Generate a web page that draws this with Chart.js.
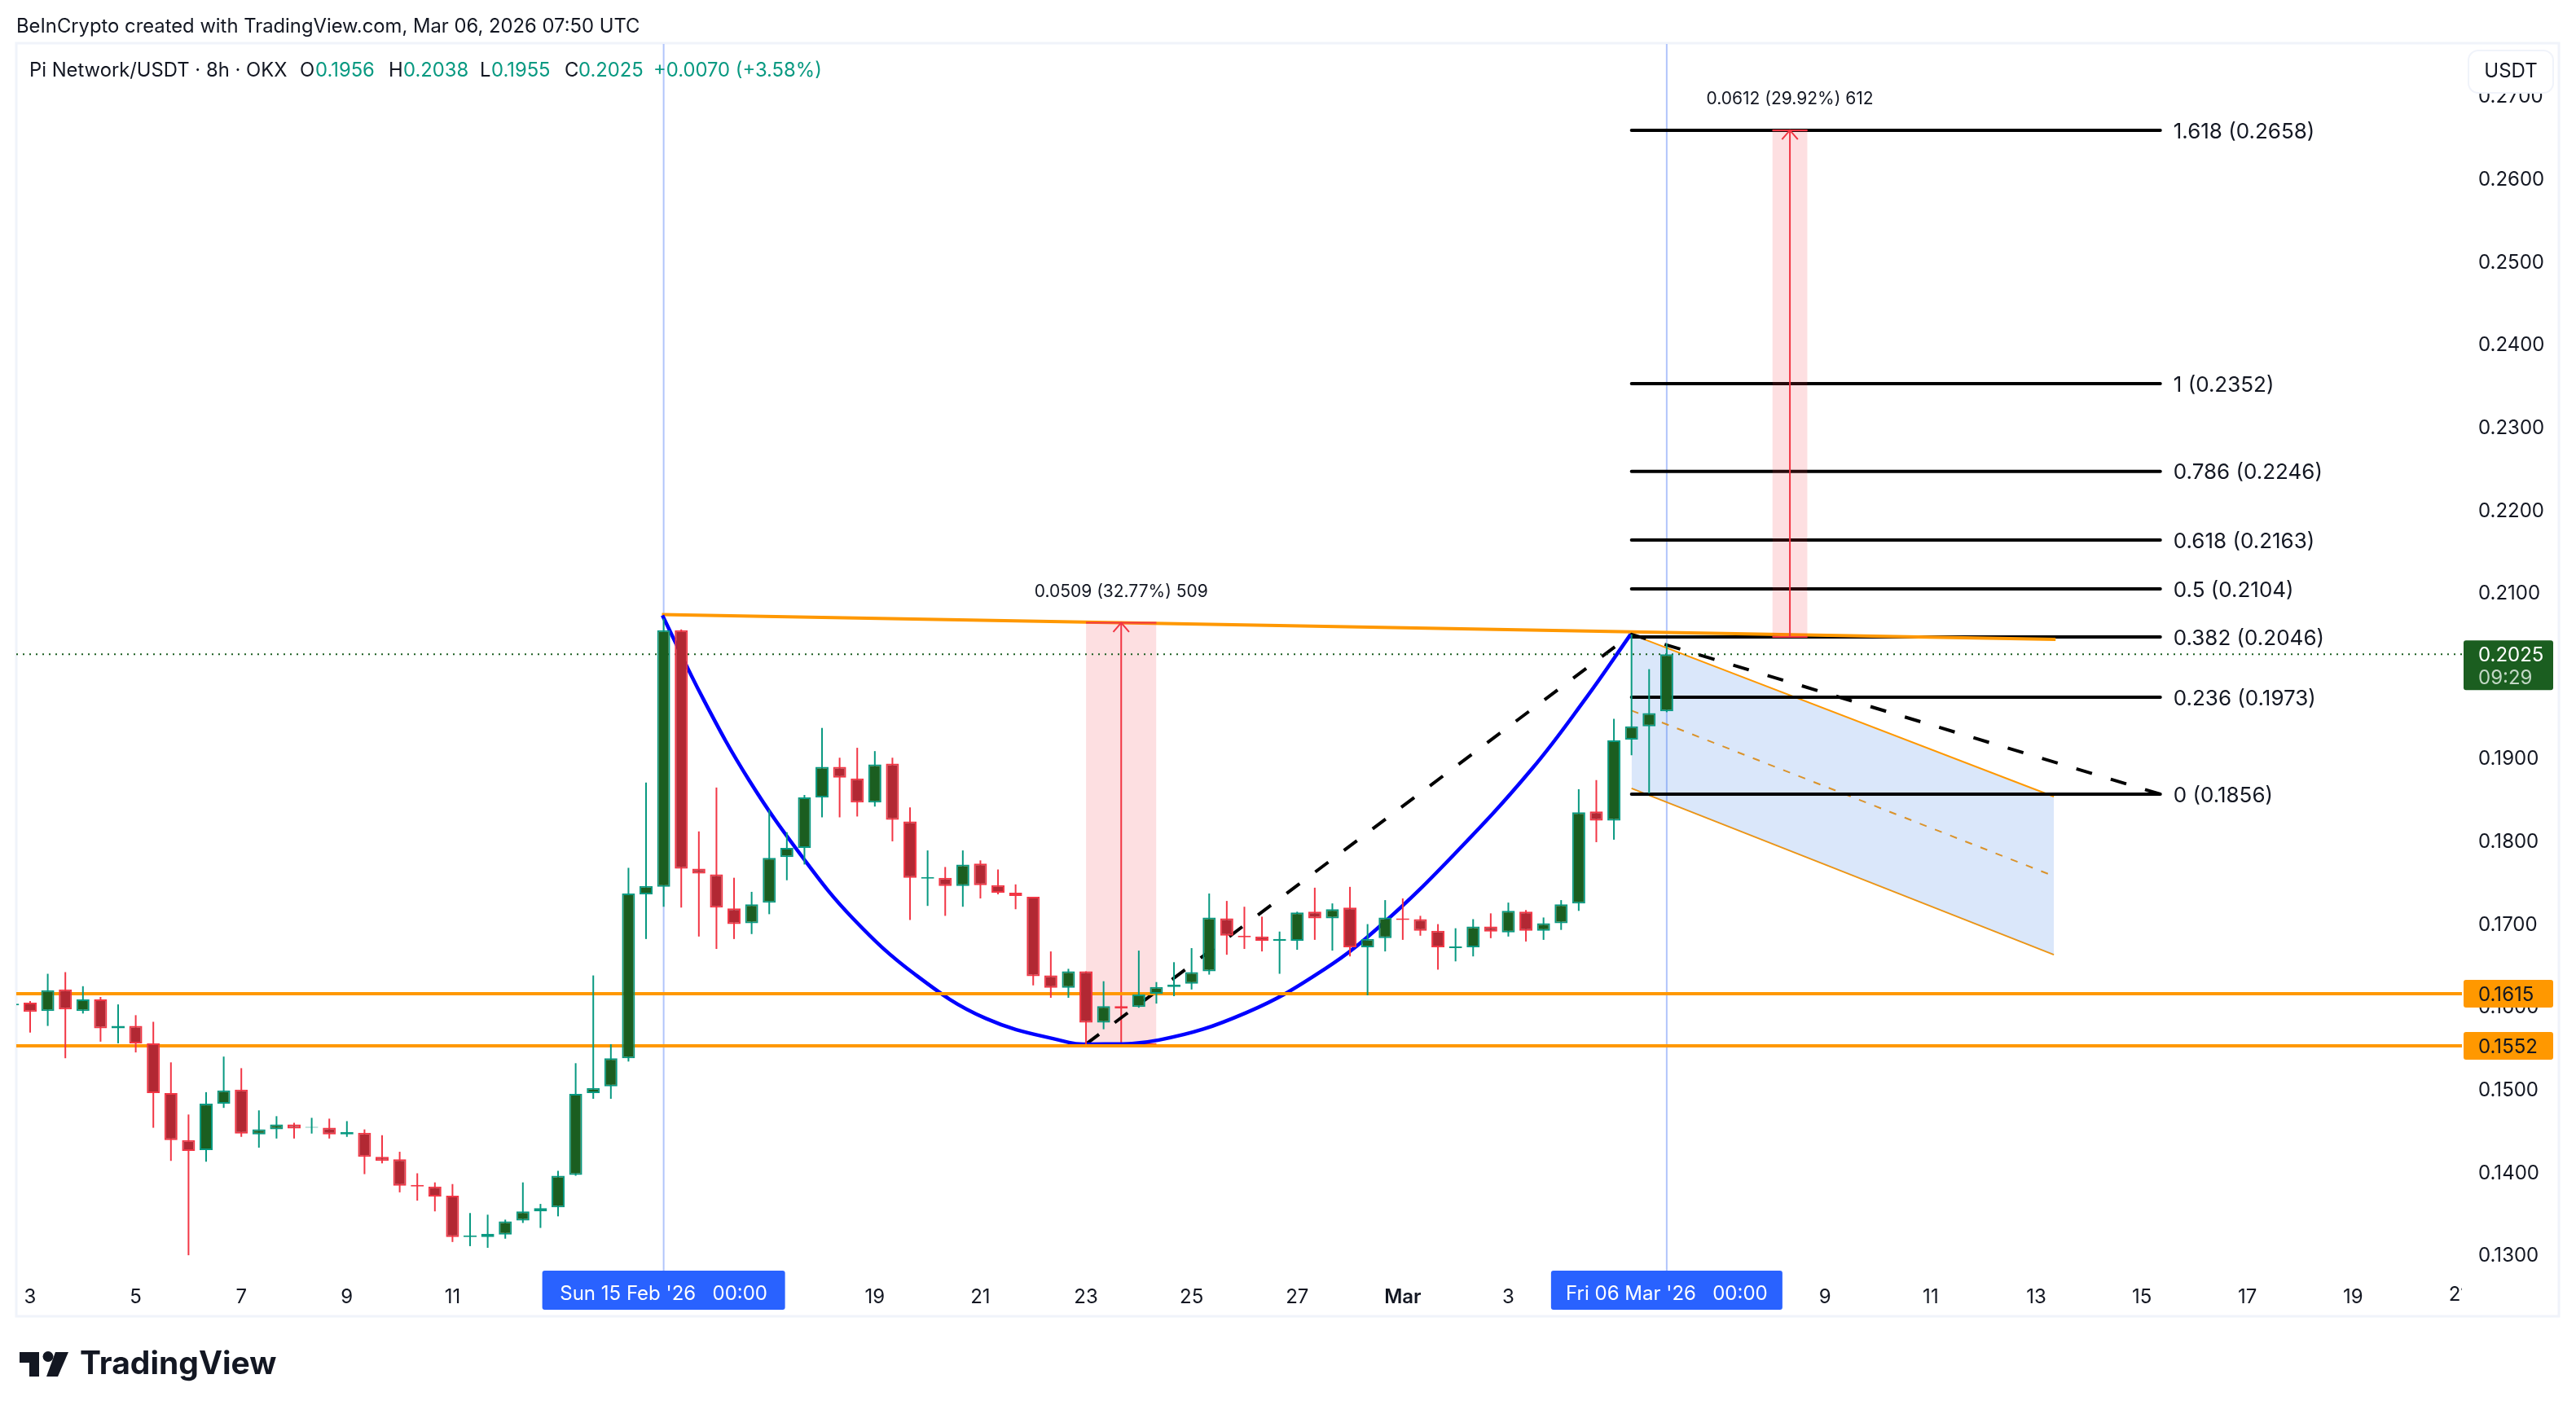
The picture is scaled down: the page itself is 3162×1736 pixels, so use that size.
<!DOCTYPE html>
<html>
<head>
<meta charset="utf-8">
<title>Pi Network/USDT</title>
<script src="https://cdn.jsdelivr.net/npm/chart.js@4"></script>
<style>
  html, body { margin: 0; background: #fff; }
  canvas { display: block; }
</style>
</head>
<body>
<canvas id="chart" width="3162" height="1736" style="width:3162px;height:1736px"></canvas>
<script>
/*------------------------ DATA ---------------------------------*/
// 8h candles, index 1 = Feb 3 00:00
const opens = [0.1601, 0.1604, 0.1594, 0.1620, 0.1594, 0.1608, 0.1573, 0.1576, 0.1555, 0.1495, 0.1438, 0.1426, 0.1482, 0.1499, 0.1445, 0.1451, 0.1457, 0.1453, 0.1453, 0.1445, 0.1447, 0.1418, 0.1415, 0.1384, 0.1382, 0.1371, 0.1321, 0.1321, 0.1324, 0.1341, 0.1352, 0.1357, 0.1396, 0.1495, 0.1503, 0.1537, 0.1735, 0.1744, 0.2054, 0.1766, 0.1759, 0.1718, 0.1700, 0.1725, 0.1780, 0.1791, 0.1852, 0.1889, 0.1875, 0.1846, 0.1893, 0.1823, 0.1754, 0.1755, 0.1745, 0.1772, 0.1746, 0.1737, 0.1732, 0.1637, 0.1622, 0.1642, 0.1580, 0.1600, 0.1599, 0.1615, 0.1623, 0.1627, 0.1642, 0.1706, 0.1685, 0.1684, 0.1679, 0.1679, 0.1714, 0.1706, 0.1719, 0.1671, 0.1682, 0.1706, 0.1705, 0.1691, 0.1670, 0.1671, 0.1696, 0.1689, 0.1714, 0.1691, 0.1700, 0.1724, 0.1835, 0.1824, 0.1922, 0.1938, 0.1956]
const highs = [0.1603, 0.1606, 0.1639, 0.1641, 0.1624, 0.1611, 0.1602, 0.1589, 0.1581, 0.1532, 0.1469, 0.1496, 0.1539, 0.1525, 0.1474, 0.1467, 0.1459, 0.1465, 0.1464, 0.1461, 0.1451, 0.1444, 0.1424, 0.1398, 0.1387, 0.1385, 0.1350, 0.1348, 0.1342, 0.1387, 0.1361, 0.1401, 0.1531, 0.1637, 0.1554, 0.1767, 0.1870, 0.2068, 0.2055, 0.1811, 0.1864, 0.1755, 0.1738, 0.1837, 0.1810, 0.1855, 0.1936, 0.1900, 0.1912, 0.1908, 0.1900, 0.1840, 0.1788, 0.1768, 0.1788, 0.1776, 0.1765, 0.1747, 0.1732, 0.1666, 0.1645, 0.1642, 0.1630, 0.1600, 0.1667, 0.1629, 0.1653, 0.1670, 0.1736, 0.1727, 0.1720, 0.1708, 0.1690, 0.1714, 0.1743, 0.1724, 0.1744, 0.1699, 0.1728, 0.1730, 0.1709, 0.1699, 0.1694, 0.1705, 0.1712, 0.1725, 0.1716, 0.1707, 0.1728, 0.1862, 0.1873, 0.1947, 0.2049, 0.2007, 0.2038]
const lows = [0.1601, 0.1568, 0.1576, 0.1537, 0.1591, 0.1557, 0.1555, 0.1544, 0.1453, 0.1413, 0.1299, 0.1412, 0.1477, 0.1442, 0.1429, 0.1440, 0.1440, 0.1446, 0.1440, 0.1442, 0.1397, 0.1410, 0.1375, 0.1365, 0.1352, 0.1315, 0.1310, 0.1308, 0.1319, 0.1338, 0.1332, 0.1346, 0.1395, 0.1488, 0.1488, 0.1533, 0.1681, 0.1720, 0.1719, 0.1684, 0.1669, 0.1681, 0.1687, 0.1711, 0.1752, 0.1771, 0.1828, 0.1828, 0.1829, 0.1841, 0.1799, 0.1704, 0.1721, 0.1709, 0.1720, 0.1730, 0.1735, 0.1717, 0.1625, 0.1610, 0.1610, 0.1554, 0.1572, 0.1597, 0.1598, 0.1603, 0.1612, 0.1620, 0.1638, 0.1662, 0.1669, 0.1666, 0.1639, 0.1668, 0.1680, 0.1667, 0.1660, 0.1613, 0.1666, 0.1680, 0.1685, 0.1644, 0.1654, 0.1660, 0.1682, 0.1684, 0.1678, 0.1680, 0.1692, 0.1715, 0.1798, 0.1801, 0.1903, 0.1857, 0.1955]
const closes = [0.1603, 0.1593, 0.1619, 0.1596, 0.1608, 0.1573, 0.1576, 0.1555, 0.1495, 0.1438, 0.1425, 0.1482, 0.1498, 0.1446, 0.1451, 0.1457, 0.1452, 0.1454, 0.1445, 0.1448, 0.1418, 0.1413, 0.1383, 0.1382, 0.1370, 0.1321, 0.1323, 0.1325, 0.1340, 0.1352, 0.1356, 0.1395, 0.1494, 0.1501, 0.1537, 0.1736, 0.1745, 0.2054, 0.1766, 0.1760, 0.1719, 0.1699, 0.1723, 0.1779, 0.1791, 0.1852, 0.1889, 0.1876, 0.1846, 0.1892, 0.1825, 0.1755, 0.1756, 0.1745, 0.1771, 0.1746, 0.1737, 0.1733, 0.1636, 0.1622, 0.1642, 0.1580, 0.1600, 0.1597, 0.1614, 0.1623, 0.1626, 0.1641, 0.1707, 0.1685, 0.1683, 0.1679, 0.1681, 0.1713, 0.1706, 0.1717, 0.1671, 0.1681, 0.1707, 0.1704, 0.1691, 0.1671, 0.1672, 0.1696, 0.1690, 0.1715, 0.1691, 0.1700, 0.1723, 0.1834, 0.1824, 0.1921, 0.1938, 0.1954, 0.2025]

// one label every 6 candles, blank where the date pills sit
const xTickLabels = ['3', '5', '7', '9', '11', '', '', '', '19', '21', '23', '25', '27', 'Mar', '3', '', '', '9', '11', '13', '15', '17', '19']
const yTickValues = [0.13, 0.14, 0.15, 0.16, 0.17, 0.18, 0.19, 0.20, 0.21, 0.22, 0.23, 0.24, 0.25, 0.26, 0.27]

const fibLevels = ['1.618', '1', '0.786', '0.618', '0.5', '0.382', '0.236', '0']
const fibPrices = [0.2658, 0.2352, 0.2246, 0.2163, 0.2104, 0.2046, 0.1973, 0.1856]

const supportLevels = [0.1615, 0.1552]
const lastPrice = 0.2025
const crosshairIndexes = [37, 94]

const cupX = [36.93, 39.25, 41.85, 44.92, 47.75, 51.30, 55.31, 60.03, 61, 65.14, 70.10, 74.59, 77.89, 81.91, 86.32, 89.41, 91.95]
const cupY = [0.2072, 0.1971, 0.1873, 0.1779, 0.1706, 0.1638, 0.1585, 0.1556, 0.1554, 0.1559, 0.1592, 0.1645, 0.1700, 0.1783, 0.1886, 0.1972, 0.2049]

const trendX = [36.9, 116.1]
const trendY = [0.2073, 0.2043]
const zigzagX = [61, 92, 122.05]
const zigzagY = [0.1554, 0.2049, 0.1856]

const channelX = [92, 116]
const channelTop = [0.2049, 0.1853]
const channelMid = [0.1957, 0.1757]
const channelBottom = [0.1863, 0.1662]

// measure boxes: x from, x to, price from, price to
const measureLeftX = [61, 100]
const measureRightX = [65, 102]
const measureLow = [0.1554, 0.2046]
const measureHigh = [0.2063, 0.2658]
const measureLabels = ['0.0509 (32.77%) 509', '0.0612 (29.92%) 612']

/*------------------------ STYLES ---------------------------------*/
const FONT = 'Inter, "Liberation Sans", sans-serif'
const TEXT = '#131722'
const UP = '#089981'
const DOWN = '#f23645'
const UP_FILL = '#1b5e20'
const DOWN_FILL = '#b22833'
const ORANGE = '#ff9800'
const PILL_BLUE = '#2962ff'

const isUp = i => closes[i] >= opens[i]

/*------------------------ DATASETS ---------------------------------*/
const pts = (xs, ys) => xs.map((x, i) => ({ x: x, y: ys[i] }))

function line(data, color, width, order, extra) {
    return Object.assign({
        type: 'line',
        data: data,
        borderColor: color,
        borderWidth: width,
        pointRadius: 0,
        fill: false,
        order: order
    }, extra)
}

const X_MIN = 0.213
const X_MAX = 139.19
const Y_MIN = 0.12804
const Y_MAX = 0.27622

const datasets = []

crosshairIndexes.forEach(i => {
    datasets.push(line(pts([i, i], [Y_MIN, Y_MAX]), '#b2c5fb', 2, 12))
})

// channel: top fills down to the bottom line, keep these two next to each other
datasets.push(line(pts(channelX, channelTop), ORANGE, 2, 11, { fill: '+1', backgroundColor: 'rgba(56, 130, 230, .19)' }))
datasets.push(line(pts(channelX, channelBottom), ORANGE, 2, 11))
datasets.push(line(pts(channelX, channelMid), ORANGE, 2, 11, { borderDash: [9, 11] }))

fibPrices.forEach(price => {
    datasets.push(line(pts([92, 122.05], [price, price]), '#000', 4, 10, { borderCapStyle: 'round' }))
})

datasets.push(line(pts(trendX, trendY), ORANGE, 4, 9))

measureLow.forEach((low, i) => {
    const left = measureLeftX[i]
    const right = measureRightX[i]
    const mid = (left + right) / 2
    const high = measureHigh[i]
    datasets.push(line(pts([left, right], [high, high]), DOWN, 2, 8, { fill: { value: low }, backgroundColor: 'rgba(242, 54, 69, .16)' }))
    datasets.push(line(pts([left, right], [low, low]), DOWN, 2, 8))
    datasets.push(line(pts([mid, mid], [low, high]), DOWN, 2, 8))
    datasets.push(line(pts([mid - 0.45, mid, mid + 0.45], [high - 0.0011, high, high - 0.0011]), DOWN, 2, 8))
})

datasets.push(line(pts(zigzagX, zigzagY), '#000', 4, 6, { borderDash: [20, 24] }))
datasets.push(line(pts(cupX, cupY), '#0000ff', 4.5, 5, { tension: 0.4 }))

supportLevels.forEach(level => {
    datasets.push(line(pts([X_MIN, X_MAX], [level, level]), ORANGE, 4, 4))
})
datasets.push(line(pts([X_MIN, X_MAX], [lastPrice, lastPrice]), UP_FILL, 2, 4, { borderDash: [2, 6] }))

datasets.push({
    type: 'bar',
    data: highs.map((h, i) => ({ x: i, y: [lows[i], h] })),
    backgroundColor: highs.map((h, i) => isUp(i) ? UP : DOWN),
    borderWidth: 0,
    barThickness: 2,
    grouped: false,
    inflateAmount: 0,
    order: 2
})
datasets.push({
    type: 'bar',
    data: opens.map((o, i) => ({ x: i, y: [o, closes[i]] })),
    backgroundColor: opens.map((o, i) => isUp(i) ? UP_FILL : DOWN_FILL),
    borderColor: opens.map((o, i) => isUp(i) ? UP : DOWN),
    borderWidth: 2,
    borderSkipped: false,
    barThickness: 16,
    grouped: false,
    inflateAmount: 0,
    order: 1
})

/*------------------------ OVERLAY TEXT AND PILLS ---------------------------------*/
function text(ctx, str, x, y, color, size, align, weight) {
    ctx.fillStyle = color
    ctx.font = (weight || 400) + ' ' + size + 'px ' + FONT
    ctx.textAlign = align || 'left'
    ctx.textBaseline = 'middle'
    ctx.fillText(str, x, y + 2)
}

function pill(ctx, x, y, w, h, color) {
    ctx.fillStyle = color
    ctx.beginPath()
    ctx.roundRect(x, y, w, h, 3)
    ctx.fill()
}

const frame = {
    id: 'frame',
    beforeDraw(chart) {
        const ctx = chart.ctx
        ctx.fillStyle = '#fff'
        ctx.fillRect(0, 0, chart.width, chart.height)
        ctx.strokeStyle = '#f0f3fa'
        ctx.lineWidth = 3
        ctx.strokeRect(20, 53, 3121, 1563)
    }
}

const overlay = {
    id: 'overlay',
    afterDraw(chart) {
        const ctx = chart.ctx
        const x = chart.scales.x
        const y = chart.scales.y

        fibLevels.forEach((level, i) => {
            text(ctx, level + ' (' + fibPrices[i].toFixed(4) + ')', x.getPixelForValue(122.05) + 16, y.getPixelForValue(fibPrices[i]), TEXT, 26)
        })
        measureLabels.forEach((label, i) => {
            const mid = (measureLeftX[i] + measureRightX[i]) / 2
            text(ctx, label, x.getPixelForValue(mid), y.getPixelForValue(measureHigh[i]) - 40, TEXT, 21, 'center')
        })

        // header lines
        text(ctx, 'BeInCrypto created with TradingView.com, Mar 06, 2026 07:50 UTC', 20, 31, TEXT, 23.8)
        text(ctx, 'Pi Network/USDT · 8h · OKX', 36, 85, TEXT, 23.8)
        const ohlc = [['O', '0.1956', 368, 387], ['H', '0.2038', 477, 495], ['L', '0.1955', 589, 603], ['C', '0.2025', 693, 710]]
        ohlc.forEach(o => {
            text(ctx, o[0], o[2], 85, TEXT, 23.8)
            text(ctx, o[1], o[3], 85, UP, 23.8)
        })
        text(ctx, '+0.0070 (+3.58%)', 802, 85, UP, 23.8)

        // last x label is cut by the edge of the pane
        ctx.save()
        ctx.beginPath()
        ctx.rect(0, 0, x.right, chart.height)
        ctx.clip()
        text(ctx, '21', x.getPixelForValue(139), 1588, TEXT, 24, 'center')
        ctx.restore()

        // time pills
        const times = ["Sun 15 Feb '26   00:00", "Fri 06 Mar '26   00:00"]
        crosshairIndexes.forEach((idx, i) => {
            const cx = x.getPixelForValue(idx)
            const w = i === 0 ? 298 : 284
            pill(ctx, cx - w / 2, 1560, w, 48, PILL_BLUE)
            text(ctx, times[i], cx, 1587, '#fff', 24, 'center')
        })

        // price pills
        const py = y.getPixelForValue(lastPrice)
        pill(ctx, 3024, py - 17, 110, 61, UP_FILL)
        text(ctx, '0.2025', 3042, py, '#fff', 24)
        text(ctx, '09:29', 3042, py + 28, '#c3d7c5', 24)
        supportLevels.forEach(level => {
            const ly = y.getPixelForValue(level)
            pill(ctx, 3024, ly - 17, 110, 34, ORANGE)
            text(ctx, level.toFixed(4), 3042, ly, TEXT, 24)
        })

        // currency button
        ctx.fillStyle = '#fff'
        ctx.strokeStyle = '#f0f3fa'
        ctx.lineWidth = 2
        ctx.beginPath()
        ctx.roundRect(3030, 62, 104, 52, 12)
        ctx.fill()
        ctx.stroke()
        text(ctx, 'USDT', 3082, 86, TEXT, 24, 'center')

        // logo
        ctx.fillStyle = '#131722'
        ctx.fillRect(24, 1660, 24, 13)
        ctx.fillRect(36, 1660, 12, 30)
        ctx.beginPath()
        ctx.arc(59, 1665.5, 6.5, 0, Math.PI * 2)
        ctx.fill()
        ctx.beginPath()
        ctx.moveTo(68, 1660)
        ctx.lineTo(84, 1660)
        ctx.lineTo(71, 1690)
        ctx.lineTo(57, 1690)
        ctx.closePath()
        ctx.fill()
        text(ctx, 'TradingView', 98, 1673, '#131722', 39, 'left', 700)
    }
}

/*------------------------ CHART ---------------------------------*/
new Chart(document.querySelector('#chart').getContext('2d'), {
    type: 'bar',
    data: { datasets: datasets },
    plugins: [frame, overlay],
    options: {
        responsive: false,
        animation: false,
        devicePixelRatio: 1,
        events: [],
        layout: { padding: { left: 20, right: 21, top: 54, bottom: 121 } },
        plugins: {
            legend: { display: false },
            title: { display: false },
            tooltip: { enabled: false }
        },
        scales: {
            x: {
                type: 'linear',
                min: X_MIN,
                max: X_MAX,
                offset: false,
                grid: { display: false, drawTicks: false },
                border: { display: false },
                afterBuildTicks: axis => {
                    axis.ticks = xTickLabels.map((l, k) => ({ value: 1 + 6 * k }))
                },
                afterFit: axis => { axis.height = 55 },
                ticks: {
                    autoSkip: false,
                    maxRotation: 0,
                    padding: 18,
                    color: TEXT,
                    font: c => ({ family: FONT, size: 24, weight: c.index === 13 ? 600 : 400 }),
                    callback: (v, i) => xTickLabels[i]
                }
            },
            y: {
                type: 'linear',
                position: 'right',
                min: Y_MIN,
                max: Y_MAX,
                grid: { display: false, drawTicks: false },
                border: { display: false },
                afterBuildTicks: axis => {
                    axis.ticks = yTickValues.map(v => ({ value: v }))
                },
                afterFit: axis => { axis.width = 119 },
                ticks: {
                    autoSkip: false,
                    padding: 20,
                    labelOffset: 2,
                    crossAlign: 'near',
                    color: TEXT,
                    font: { family: FONT, size: 24 },
                    callback: v => v.toFixed(4)
                }
            }
        }
    }
})
</script>
</body>
</html>
